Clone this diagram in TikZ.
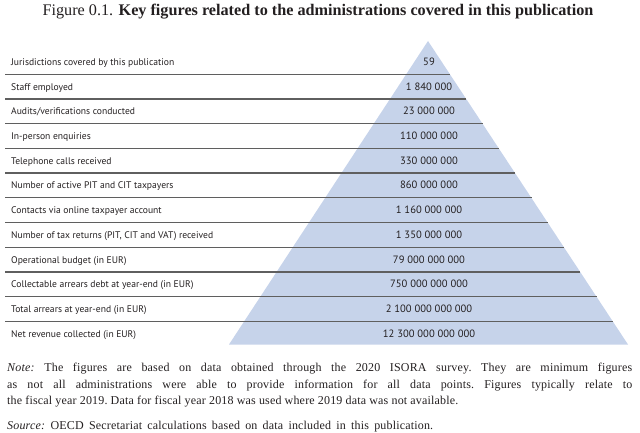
\documentclass[tikz,border=0pt]{standalone}
\usepackage{fontspec}
\setmainfont{Liberation Serif}
\newfontfamily\labelfont{PT Sans}
\newfontfamily\notefont{Liberation Serif}[LetterSpace=1.5]
\definecolor{pyr}{RGB}{198,211,234}
\definecolor{rulec}{RGB}{95,95,95}
\definecolor{txt}{RGB}{35,31,32}
\begin{document}
\begin{tikzpicture}[x=1pt,y=-1pt,
  lbl/.style={font=\labelfont\fontsize{9.6}{11}\selectfont, text=txt, anchor=base west, inner sep=0pt},
  val/.style={font=\labelfont\fontsize{10.6}{12}\selectfont, text=txt, anchor=base, inner sep=0pt},
  sepline/.style={draw=rulec, line width=1.2pt},
  notetext/.style={font=\notefont\fontsize{12}{14}\selectfont\frenchspacing, text=txt, anchor=base west, inner sep=0pt},
  titletext/.style={font=\fontsize{16.2}{18}\selectfont, text=txt, anchor=base, inner sep=0pt}]
\useasboundingbox (0,0) rectangle (640,433);
% pyramid
\fill[pyr] (428,41) -- (628,344.5) -- (229,344.5) -- cycle;
% separators
\foreach \k in {1,...,11}{
  \pgfmathsetmacro\yy{49.6+24.7*\k}
  \pgfmathsetmacro\xx{428+(\yy-41)*0.660066}
  \draw[sepline] (5,\yy) -- (\xx,\yy);
}
% rows
\foreach \i/\lab/\val in {
 0/{Jurisdictions covered by this publication}/{59},
 1/{Staff employed}/{1 840 000},
 2/{Audits/verifications conducted}/{23 000 000},
 3/{In-person enquiries}/{110 000 000},
 4/{Telephone calls received}/{330 000 000},
 5/{Number of active PIT and CIT taxpayers}/{860 000 000},
 6/{Contacts via online taxpayer account}/{1 160 000 000},
 7/{Number of tax returns (PIT, CIT and VAT) received}/{1 350 000 000},
 8/{Operational budget (in EUR)}/{79 000 000 000},
 9/{Collectable arrears debt at year-end (in EUR)}/{750 000 000 000},
 10/{Total arrears at year-end (in EUR)}/{2 100 000 000 000},
 11/{Net revenue collected (in EUR)}/{12 300 000 000 000}}{
  \pgfmathsetmacro\cy{61.95+24.7*\i+3.5}
  \node[lbl] (l\i) at (11,\cy) {\lab};
  \node[val] (v\i) at (429,\cy) {\val};
}
% title
\node[titletext] (title) at (318,16) {Figure 0.1. \textbf{Key figures related to the administrations covered in this publication}};
% note
\node[notetext] (n1) at (7,371.7) {\makebox[625pt][s]{\textit{Note:} The figures are based on data obtained through the 2020 ISORA survey. They are minimum figures}};
\node[notetext] (n2) at (7,388.3) {\makebox[625pt][s]{as not all administrations were able to provide information for all data points. Figures typically relate to}};
\node[notetext] (n3) at (7,404.3) {the fiscal year 2019. Data for fiscal year 2018 was used where 2019 data was not available.};
\node[notetext] (src) at (7,429) {\makebox[426pt][s]{\textit{Source:} OECD Secretariat calculations based on data included in this publication.}};
\end{tikzpicture}
\end{document}
